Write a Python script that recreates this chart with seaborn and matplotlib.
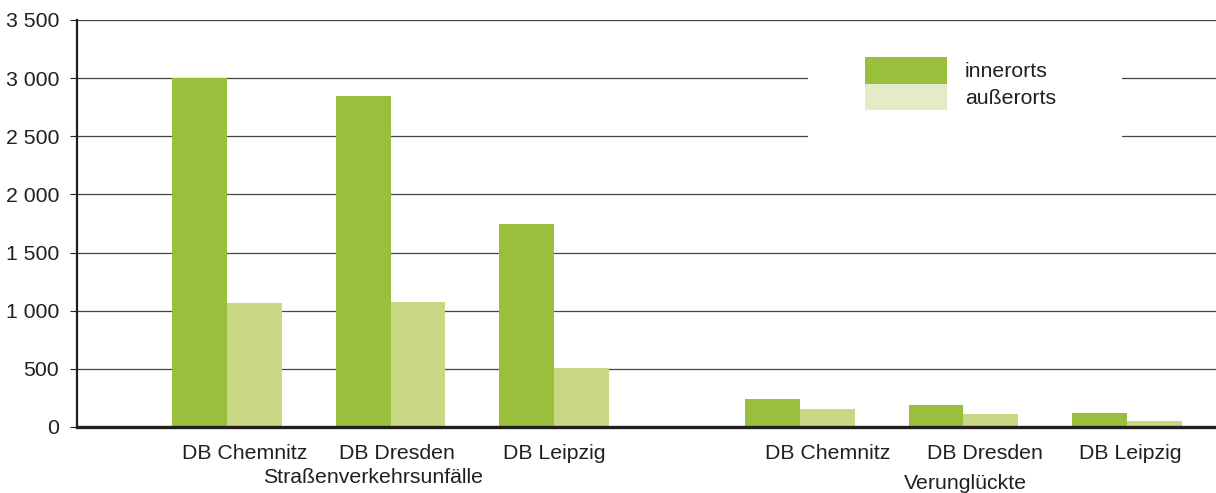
import matplotlib
matplotlib.use("Agg")
import matplotlib.pyplot as plt
from matplotlib.patches import Patch, Rectangle
from matplotlib.ticker import FuncFormatter, MultipleLocator
import matplotlib.transforms as mtransforms
import seaborn as sns
import pandas as pd

# ---- data ----
districts = ["DB Chemnitz", "DB Dresden", "DB Leipzig",
             "DB Chemnitz", "DB Dresden", "DB Leipzig"]
group_names = ["Straßenverkehrsunfälle", "Verunglückte"]
series_names = ["innerorts", "außerorts"]
innerorts = [3005, 2845, 1745, 245, 190, 120]
ausserorts = [1065, 1075, 505, 155, 115, 52]

# ---- layout / style ----
x_pos = [0, 1, 2, 3.5, 4.5, 5.5]
label_pos = [0.11, 1.04, 2.0, 3.67, 4.63, 5.52]
group_label_pos = [0.89, 4.51]
bar_colors = ["#99bf3d", "#c8d884"]
legend_colors = ["#99bf3d", "#e3ecc6"]
text_color = "#231f20"
FS = 15.3

rows = []
for p, a, b in zip(x_pos, innerorts, ausserorts):
    rows.append({"pos": p, "Lage": series_names[0], "value": a})
    rows.append({"pos": p, "Lage": series_names[1], "value": b})
df = pd.DataFrame(rows)

sns.set_theme(style="white")
plt.rcParams["font.family"] = ["Liberation Sans", "DejaVu Sans"]
plt.rcParams["text.color"] = text_color

fig = plt.figure(figsize=(12.16, 4.93), dpi=100)
W, H = 1216, 493
ax = fig.add_axes([77 / W, 1 - 427 / H, (1216 - 77) / W, (427 - 20) / H])

sns.barplot(data=df, x="pos", y="value", hue="Lage", hue_order=series_names,
            native_scale=True, width=0.67, palette=bar_colors, saturation=1,
            ax=ax, legend=False, zorder=3, linewidth=0, edgecolor="none")

ax.set_xlim(-0.917, 6.044)
ax.set_ylim(0, 3500)
ax.yaxis.set_major_locator(MultipleLocator(500))
ax.yaxis.set_major_formatter(FuncFormatter(lambda v, p: f"{v:,.0f}".replace(",", " ")))
ax.grid(axis="y", color="#444444", linewidth=0.9, zorder=0)
ax.grid(axis="x", visible=False)
ax.set_axisbelow(True)

ax.set_xticks(label_pos)
ax.set_xticklabels(districts)
ax.tick_params(axis="x", length=0, pad=12, labelsize=FS, colors=text_color)
ax.tick_params(axis="y", length=5, width=0.8, direction="out", left=True,
               pad=8, labelsize=FS, colors=text_color)
ax.set_xlabel("")
ax.set_ylabel("")

for s in ["top", "right"]:
    ax.spines[s].set_visible(False)
ax.spines["left"].set_color(text_color)
ax.spines["left"].set_linewidth(1.6)
ax.spines["bottom"].set_color(text_color)
ax.spines["bottom"].set_linewidth(2.4)
ax.spines["bottom"].set_zorder(5)

trans = mtransforms.blended_transform_factory(ax.transData, ax.transAxes)
for gx, gname, gy in zip(group_label_pos, group_names, [-0.125, -0.138]):
    ax.text(gx, gy, gname, transform=trans, ha="center", va="center",
            fontsize=FS, color=text_color)

# white area behind the legend (interrupts gridlines)
fx0, fx1 = 808 / W, 1122 / W
fy0, fy1 = 1 - 150 / H, 1 - 45 / H
fig.patches.append(Rectangle((fx0, fy0), fx1 - fx0, fy1 - fy0,
                             transform=fig.transFigure, facecolor="white",
                             edgecolor="none", zorder=2))
ax.set_zorder(1)
ax.patch.set_alpha(0)

handles = [Patch(facecolor=c, edgecolor="none") for c in legend_colors]
leg = fig.legend(handles, series_names, loc="upper left",
                 bbox_to_anchor=(865 / W, 1 - 57 / H), frameon=False,
                 fontsize=FS, handlelength=3.85, handleheight=1.55,
                 labelspacing=0, handletextpad=0.85, borderpad=0,
                 borderaxespad=0)
leg.set_zorder(10)

fig.savefig("out.png", dpi=100, facecolor="white")
